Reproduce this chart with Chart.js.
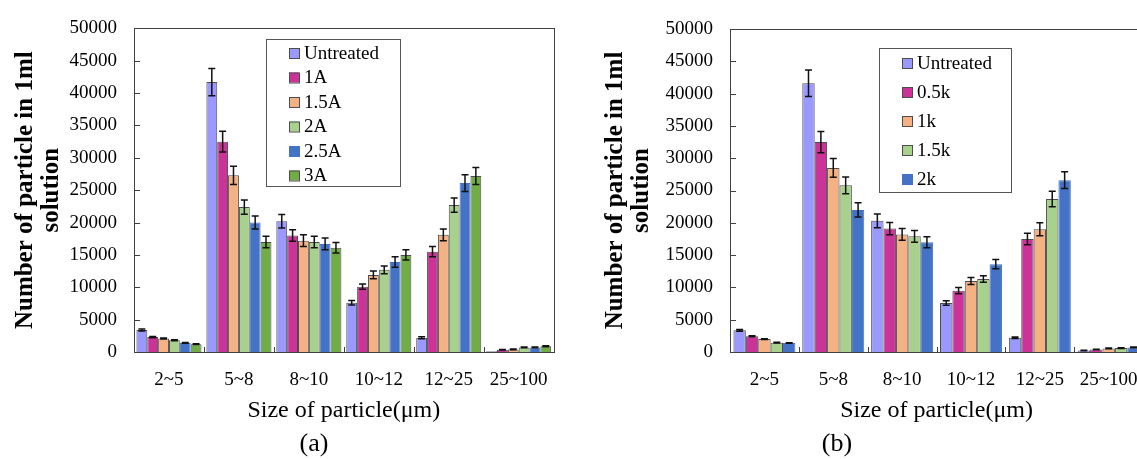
<!DOCTYPE html>
<html>
<head>
<meta charset="utf-8">
<script src="https://cdn.jsdelivr.net/npm/chart.js@4.4.1/dist/chart.umd.min.js"></script>
<style>
    html, body { margin: 0; padding: 0; background: #fff; overflow: hidden; width: 1137px; height: 459px; }
    canvas { position: absolute; top: 0; }
    #chart-a { left: 0; }
    #chart-b { left: 590px; }
</style>
</head>
<body>
<canvas id="chart-a" width="565" height="459"></canvas>
<canvas id="chart-b" width="565" height="459"></canvas>
<script>
// Kategori ukuran partikel
const sizeLabels = ['2~5', '5~8', '8~10', '10~12', '12~25', '25~100'];
const yMin = 0;
const yMax = 50000;
const yStep = 5000;

// (a) perlakuan arus
const seriesA = ['Untreated', '1A', '1.5A', '2A', '2.5A', '3A'];
const untreatedA = [3400, 41700, 20200, 7600, 2200, 100];
const amp1 = [2300, 32500, 18000, 10100, 15500, 350];
const amp15 = [2100, 27300, 17200, 11900, 18100, 400];
const amp2 = [1800, 22400, 17000, 12700, 22700, 700];
const amp25 = [1400, 20000, 16700, 13900, 26100, 700];
const amp3 = [1200, 17000, 16100, 15000, 27200, 900];
const errUntreatedA = [150, 2100, 1050, 350, 150, 0];
const errAmp1 = [100, 1600, 900, 400, 800, 50];
const errAmp15 = [80, 1400, 900, 600, 900, 50];
const errAmp2 = [80, 1100, 900, 600, 1100, 60];
const errAmp25 = [60, 1000, 900, 800, 1300, 60];
const errAmp3 = [60, 900, 800, 800, 1300, 80];

// (b) perlakuan frekuensi
const seriesB = ['Untreated', '0.5k', '1k', '1.5k', '2k'];
const untreatedB = [3350, 41600, 20300, 7600, 2200, 250];
const freq05 = [2450, 32500, 19100, 9500, 17500, 400];
const freq1 = [2000, 28500, 18200, 11000, 19000, 550];
const freq15 = [1450, 25800, 17900, 11300, 23700, 600];
const freq2 = [1400, 22000, 17000, 13600, 26600, 700];
const errUntreatedB = [120, 2050, 1050, 350, 120, 40];
const errFreq05 = [80, 1650, 950, 500, 900, 40];
const errFreq1 = [70, 1450, 900, 550, 1000, 60];
const errFreq15 = [50, 1300, 900, 500, 1200, 50];
const errFreq2 = [50, 1100, 850, 700, 1300, 60];

const SERIF = '"Times New Roman", "Liberation Serif", serif';
const colorsA = ['#9999FF', '#CC3399', '#F4B183', '#A9D18E', '#4472C4', '#70AD47'];
const colorsB = ['#9999FF', '#CC3399', '#F4B183', '#A9D18E', '#4472C4'];

// Error bar, bingkai, tick ke dalam, legenda dan caption
const decorPlugin = {
    id: 'decor',
    afterDatasetsDraw(chart) {
        const ctx = chart.ctx;
        const area = chart.chartArea;
        const x = chart.scales.x;
        const y = chart.scales.y;
        ctx.save();

        // bingkai area plot
        ctx.strokeStyle = '#404040';
        ctx.lineWidth = 1;
        ctx.strokeRect(Math.round(area.left) + 0.5, Math.round(area.top) + 0.5,
            Math.round(area.right - area.left), Math.round(area.bottom - area.top));

        // tick sumbu y ke dalam
        y.ticks.forEach(t => {
            const py = Math.round(y.getPixelForValue(t.value)) + 0.5;
            ctx.beginPath();
            ctx.moveTo(area.left, py);
            ctx.lineTo(area.left + 6, py);
            ctx.stroke();
        });
        // tick batas kategori
        for (let i = 0; i < sizeLabels.length - 1; i++) {
            const px = Math.round((x.getPixelForValue(i) + x.getPixelForValue(i + 1)) / 2) + 0.5;
            ctx.beginPath();
            ctx.moveTo(px, area.bottom);
            ctx.lineTo(px, area.bottom - 5);
            ctx.stroke();
        }

        // error bar
        ctx.strokeStyle = '#111';
        ctx.lineWidth = 1.5;
        chart.data.datasets.forEach((ds, i) => {
            const meta = chart.getDatasetMeta(i);
            meta.data.forEach((bar, j) => {
                const err = ds.errors[j];
                if (!err) return;
                const v = ds.data[j];
                const yt = y.getPixelForValue(v + err);
                const yb = y.getPixelForValue(Math.max(0, v - err));
                const cx = bar.x;
                ctx.beginPath();
                ctx.moveTo(cx, yt); ctx.lineTo(cx, yb);
                ctx.moveTo(cx - 3.5, yt); ctx.lineTo(cx + 3.5, yt);
                ctx.moveTo(cx - 3.5, yb); ctx.lineTo(cx + 3.5, yb);
                ctx.stroke();
            });
        });
        ctx.restore();
    },
    afterDraw(chart, args, opts) {
        const ctx = chart.ctx;
        const area = chart.chartArea;
        const lg = opts.legend;
        ctx.save();
        // legenda
        ctx.strokeStyle = '#555';
        ctx.lineWidth = 1;
        const bx = area.left + lg.left;
        const by = lg.top;
        ctx.fillStyle = '#fff';
        ctx.fillRect(bx, by, lg.width, lg.height);
        ctx.strokeRect(bx + 0.5, by + 0.5, lg.width, lg.height);
        ctx.font = `19px ${SERIF}`;
        ctx.textBaseline = 'middle';
        ctx.textAlign = 'left';
        chart.data.datasets.forEach((ds, i) => {
            const iy = by + lg.first + i * lg.gap;
            const mx = bx + lg.marker;
            ctx.fillStyle = ds.backgroundColor;
            ctx.fillRect(mx, iy - 5, 10, 10);
            ctx.strokeStyle = ds.borderColor;
            ctx.strokeRect(mx + 0.5, iy - 4.5, 10, 10);
            ctx.fillStyle = '#000';
            ctx.fillText(ds.label, mx + 15, iy + 1);
        });
        // caption (a)/(b)
        ctx.font = `26px ${SERIF}`;
        ctx.textAlign = 'center';
        ctx.fillStyle = '#000';
        ctx.fillText(opts.caption.text, opts.caption.x, opts.caption.y);
        ctx.restore();
    }
};

function buildDatasets(names, values, errors, colors) {
    return names.map((name, i) => ({
        label: name,
        data: values[i],
        errors: errors[i],
        backgroundColor: colors[i],
        borderColor: colors[i] === '#4472C4' ? '#4472C4' : '#4d4d4d',
        borderWidth: 1
    }));
}

function makeChart(canvasId, datasets, cfg) {
    return new Chart(document.getElementById(canvasId), {
        type: 'bar',
        data: { labels: sizeLabels, datasets },
        options: {
            responsive: false,
            animation: false,
            layout: { padding: { top: cfg.top, right: 5, bottom: 0, left: 0 } },
            datasets: { bar: { categoryPercentage: cfg.catPct, barPercentage: 1 } },
            plugins: {
                legend: { display: false },
                tooltip: { enabled: false },
                decor: { legend: cfg.legend, caption: cfg.caption }
            },
            scales: {
                x: {
                    afterFit: s => { s.height = 107; },
                    grid: { display: false, drawTicks: false },
                    border: { display: false },
                    ticks: { color: '#000', padding: 17, font: { family: SERIF, size: 19 } },
                    title: {
                        display: true,
                        text: 'Size of particle(μm)',
                        color: '#000',
                        font: { family: SERIF, size: 24 },
                        padding: { top: 0, bottom: 34 }
                    }
                },
                y: {
                    min: yMin,
                    max: yMax,
                    afterFit: s => { s.width = cfg.yWidth; },
                    grid: { display: false, drawTicks: false },
                    border: { display: false },
                    ticks: {
                        stepSize: yStep,
                        color: '#000',
                        padding: 17,
                        font: { family: SERIF, size: 19 },
                        callback: v => String(v)
                    },
                    title: {
                        display: true,
                        text: ['Number of particle in 1ml', 'solution'],
                        color: '#000',
                        font: { family: SERIF, size: 25, weight: 'bold', lineHeight: 1.05 },
                        padding: { top: 12, bottom: 0 }
                    }
                }
            }
        },
        plugins: [decorPlugin]
    });
}

makeChart('chart-a',
    buildDatasets(seriesA,
        [untreatedA, amp1, amp15, amp2, amp25, amp3],
        [errUntreatedA, errAmp1, errAmp15, errAmp2, errAmp25, errAmp3],
        colorsA),
    {
        top: 22, yWidth: 134, catPct: 0.93,
        legend: { left: 132, top: 39, width: 134, height: 147, first: 14, gap: 24.5, marker: 23 },
        caption: { text: '(a)', x: 314, y: 444 }
    });

makeChart('chart-b',
    buildDatasets(seriesB,
        [untreatedB, freq05, freq1, freq15, freq2],
        [errUntreatedB, errFreq05, errFreq1, errFreq15, errFreq2],
        colorsB),
    {
        top: 29, yWidth: 140, catPct: 0.9,
        legend: { left: 149, top: 48, width: 132, height: 144, first: 15, gap: 29, marker: 23 },
        caption: { text: '(b)', x: 247, y: 444 }
    });
</script>
</body>
</html>
